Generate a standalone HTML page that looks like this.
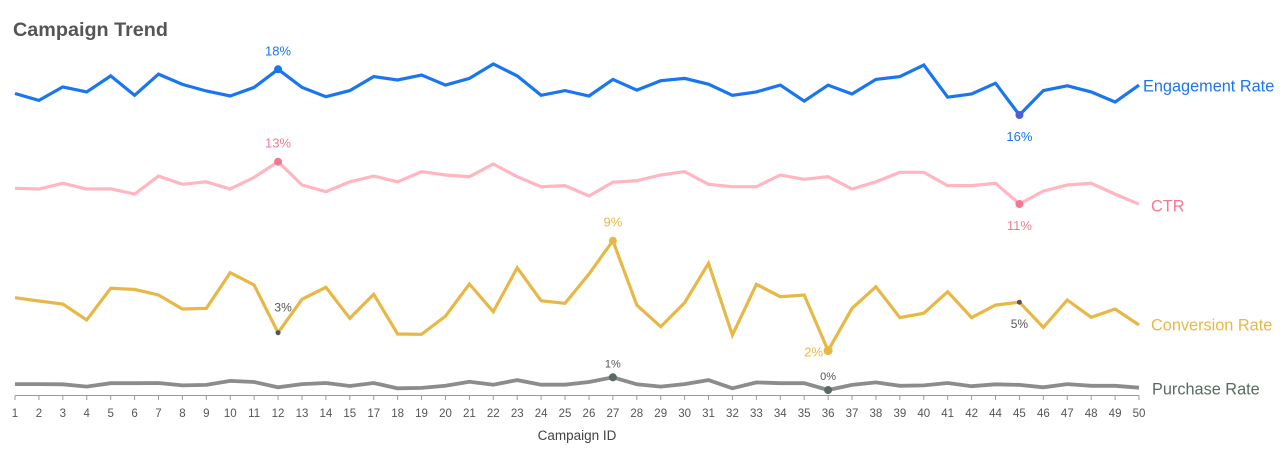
<!DOCTYPE html>
<html><head><meta charset="utf-8">
<style>
html,body{margin:0;padding:0;background:#fff;}
svg{display:block;font-family:"Liberation Sans","DejaVu Sans",sans-serif;}
</style></head>
<body>
<svg id="chart" width="1280" height="452" viewBox="0 0 1280 452" xmlns="http://www.w3.org/2000/svg">
<text x="13" y="36" font-size="19.8" font-weight="bold" fill="#555">Campaign Trend</text>
<g id="axis"></g>
<g id="series"></g>
<text x="577" y="440" font-size="13.5" fill="#444" text-anchor="middle">Campaign ID</text>
</svg>
<script>
const categories = [1,2,3,4,5,6,7,8,9,10,11,12,13,14,15,17,18,19,20,21,22,23,24,25,26,27,28,29,30,31,32,33,34,35,36,37,38,39,40,41,42,44,45,46,47,48,49,50];
const engagement = [16.94,16.64,17.23,17.01,17.71,16.86,17.79,17.34,17.05,16.83,17.21,18.0,17.21,16.80,17.07,17.68,17.53,17.75,17.31,17.60,18.23,17.71,16.86,17.07,16.83,17.56,17.09,17.50,17.60,17.35,16.86,17.01,17.31,16.61,17.31,16.92,17.56,17.68,18.19,16.78,16.92,17.39,16.0,17.07,17.28,17.01,16.57,17.31];
const ctr = [11.74,11.71,11.98,11.71,11.72,11.47,12.32,11.93,12.05,11.71,12.26,13.0,11.90,11.58,12.05,12.32,12.05,12.53,12.37,12.29,12.89,12.29,11.82,11.87,11.38,12.03,12.10,12.37,12.53,11.93,11.82,11.82,12.37,12.17,12.29,11.71,12.05,12.50,12.50,11.87,11.87,11.98,11.0,11.61,11.90,11.98,11.47,10.99];
const conversion = [5.37,5.16,4.97,3.95,5.97,5.90,5.54,4.65,4.69,6.96,6.18,3.14,5.27,6.03,4.06,5.59,3.06,3.04,4.20,6.24,4.48,7.28,5.18,5.01,6.88,9.0,4.90,3.52,5.05,7.56,2.99,6.22,5.43,5.54,2.0,4.69,6.07,4.10,4.38,5.75,4.10,4.90,5.08,3.48,5.22,4.12,4.65,3.63];
const purchase = [0.68,0.68,0.67,0.56,0.72,0.72,0.73,0.62,0.64,0.83,0.78,0.53,0.68,0.73,0.59,0.73,0.48,0.50,0.60,0.79,0.65,0.87,0.65,0.65,0.78,1.0,0.67,0.56,0.68,0.87,0.48,0.76,0.72,0.72,0.40,0.64,0.76,0.60,0.62,0.73,0.58,0.67,0.64,0.53,0.68,0.60,0.60,0.51];

const NS="http://www.w3.org/2000/svg";
const X0=15, X1=1139;
function xScale(i){return X0+(X1-X0)*i/(categories.length-1);}
const series=[
 {name:'engagement-rate',label:'Engagement Rate',data:engagement,color:'#1a76f0',lc:'#1a76f0',w:3.2,ref:18,y0:69.3,k:22.85,lx:1143,ly:86},
 {name:'ctr',label:'CTR',data:ctr,color:'#ffb6c1',lc:'#f27a90',w:3.2,ref:13,y0:161.7,k:21.15,lx:1151,ly:206},
 {name:'conversion-rate',label:'Conversion Rate',data:conversion,color:'#e8b846',lc:'#e8b846',w:3.2,ref:9,y0:240.7,k:15.7,lx:1151,ly:325},
 {name:'purchase-rate',label:'Purchase Rate',data:purchase,color:'#8c8c8c',lc:'#5a6a60',w:3.8,ref:1,y0:377.3,k:21.2,lx:1152,ly:389}
];
function yS(s,v){return s.y0+(s.ref-v)*s.k;}
function mk(tag,attrs,parent){const e=document.createElementNS(NS,tag);for(const a in attrs)e.setAttribute(a,attrs[a]);parent.appendChild(e);return e;}

const axis=document.getElementById('axis');
const al=mk('line',{x1:X0,x2:X1,y1:395.5,y2:395.5,stroke:'#9a9a9a','stroke-width':1},axis);


categories.forEach((c,i)=>{
  const t=mk('line',{x1:xScale(i),x2:xScale(i),y1:395.5,y2:400,stroke:'#9a9a9a','stroke-width':1},axis);
  
  
  const tx=mk('text',{x:xScale(i),y:417,'font-size':11.5,fill:'#555','text-anchor':'middle'},axis);
  
  
  tx.textContent=c;
});

const g=document.getElementById('series');
series.forEach(s=>{
  const pts=s.data.map((v,i)=>xScale(i).toFixed(1)+','+yS(s,v).toFixed(1)).join(' ');
  const pl=mk('polyline',{points:pts,fill:'none',stroke:s.color,'stroke-width':s.w,'stroke-linejoin':'miter','stroke-linecap':'butt'},g);
  
  
  const lb=mk('text',{x:s.lx,y:s.ly+5.5,'font-size':16.3,fill:s.lc},g);
  
  
  lb.textContent=s.label;
});

const annotations=[
 [0,12,'above','#1a76f0','#1a76f0',13,4],
 [0,45,'below','#4a5fd8','#1a76f0',13,4],
 [1,12,'above','#f27a90','#f27a90',13,4],
 [1,45,'below','#f27a90','#f27a90',13,4],
 [2,27,'above','#e8b846','#e8b846',13,4],
 [2,12,'aboveR','#555','#555',12,2.5],
 [2,36,'left','#e8b846','#e8b846',13,4.5],
 [2,45,'below','#555','#555',12,2.5],
 [3,27,'above','#5a6a60','#555',11,4],
 [3,36,'above','#5a6a60','#555',11,4]
];
annotations.forEach(a=>{
  const s=series[a[0]]; const i=categories.indexOf(a[1]); const v=s.data[i];
  const x=xScale(i), y=yS(s,v);
  const d=mk('circle',{cx:x,cy:y,r:a[6],fill:a[3]},g);
  
  
  let tx=x,ty=y-14,anchor='middle';
  if(a[2]==='below'){ty=y+26;}
  if(a[2]==='aboveR'){tx=x+5;ty=y-21;}
  if(a[2]==='left'){tx=x-5;ty=y+6;anchor='end';}
  if(a[0]===3){ty=y-10;}
  const t=mk('text',{x:tx,y:ty,'font-size':a[5],fill:a[4],'text-anchor':anchor},g);
  
  
  t.textContent=Math.round(v)+'%';
});
</script>
</body></html>
